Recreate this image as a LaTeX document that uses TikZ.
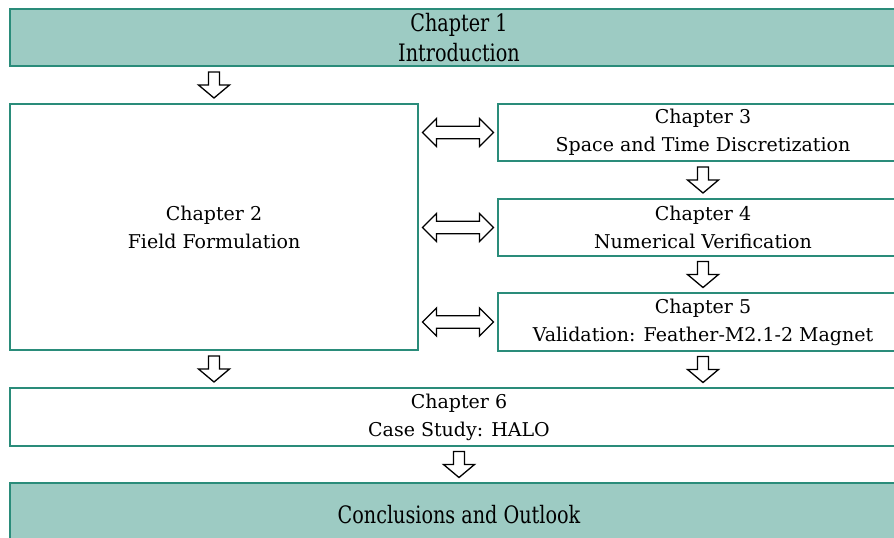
\documentclass[tikz,border=0pt]{standalone}
\usepackage{fontspec}
\setmainfont{DejaVu Serif}
\usetikzlibrary{calc}

\definecolor{tealfill}{HTML}{9DCBC3}
\definecolor{tealline}{HTML}{2A8C7A}

\tikzset{
  chapbox/.style={draw=tealline, line width=1.4pt, fill=white, align=center,
    font=\fontsize{19}{28}\selectfont, inner sep=0pt},
  keybox/.style={chapbox, fill=tealfill, font=\fontsize{24}{30}\selectfont},
  blockarrow/.style={draw=black, fill=white, line width=1.3pt, line join=miter},
  pics/downarrow/.style={code={
    \draw[blockarrow] (-5.5,-13) -- (5.5,-13) -- (5.5,0) -- (15.5,0) -- (0,13)
      -- (-15.5,0) -- (-5.5,0) -- cycle;}},
  pics/bothways/.style={code={
    \draw[blockarrow] (-35.5,0) -- (-21.5,-14) -- (-21.5,-6.3) -- (21.5,-6.3)
      -- (21.5,-14) -- (35.5,0) -- (21.5,14) -- (21.5,6.3) -- (-21.5,6.3)
      -- (-21.5,14) -- cycle;}}
}
\newcommand{\squeezed}[1]{\scalebox{0.8}[1]{#1}}

\begin{document}
\begin{tikzpicture}[x=1pt, y=-1pt]
  \useasboundingbox (0,0) rectangle (894,538);
  \begin{scope}
    \clip (0,0) rectangle (894,538);

    % chapter boxes
    \node[keybox, minimum width=898pt, minimum height=57pt] (c1) at (459,37.5)
      {\squeezed{Chapter 1}\\\squeezed{Introduction}};
    \node[chapbox, minimum width=408pt, minimum height=246pt] (c2) at (214,227)
      {Chapter 2\\Field Formulation};
    \node[chapbox, minimum width=410pt, minimum height=57pt] (c3) at (703,132.5)
      {Chapter 3\\Space and Time Discretization};
    \node[chapbox, minimum width=410pt, minimum height=57pt] (c4) at (703,227.5)
      {Chapter 4\\Numerical Verification};
    \node[chapbox, minimum width=410pt, minimum height=58pt] (c5) at (703,322)
      {Chapter 5\\Validation: Feather-M2.1-2 Magnet};
    \node[chapbox, minimum width=898pt, minimum height=58pt] (c6) at (459,417)
      {Chapter 6\\Case Study: HALO};
    \node[keybox, minimum width=898pt, minimum height=64pt] (c7) at (459,515)
      {\squeezed{Conclusions and Outlook}};

    % flow between chapters
    \path ($(c2.north)!0.5!(c2.north |- c1.south)$) pic {downarrow};
    \path ($(c2.south)!0.5!(c2.south |- c6.north)$) pic {downarrow};
    \path ($(c3.south)!0.5!(c4.north)$) pic {downarrow};
    \path ($(c4.south)!0.5!(c5.north)$) pic {downarrow};
    \path ($(c5.south)!0.5!(c5.south |- c6.north)$) pic {downarrow};
    \path ($(c6.south)!0.5!(c6.south |- c7.north)$) pic {downarrow};

    \path ($(c2.east |- c3)!0.5!(c3.west)$) pic {bothways};
    \path ($(c2.east |- c4)!0.5!(c4.west)$) pic {bothways};
    \path ($(c2.east |- c5)!0.5!(c5.west)$) pic {bothways};
  \end{scope}
\end{tikzpicture}
\end{document}
